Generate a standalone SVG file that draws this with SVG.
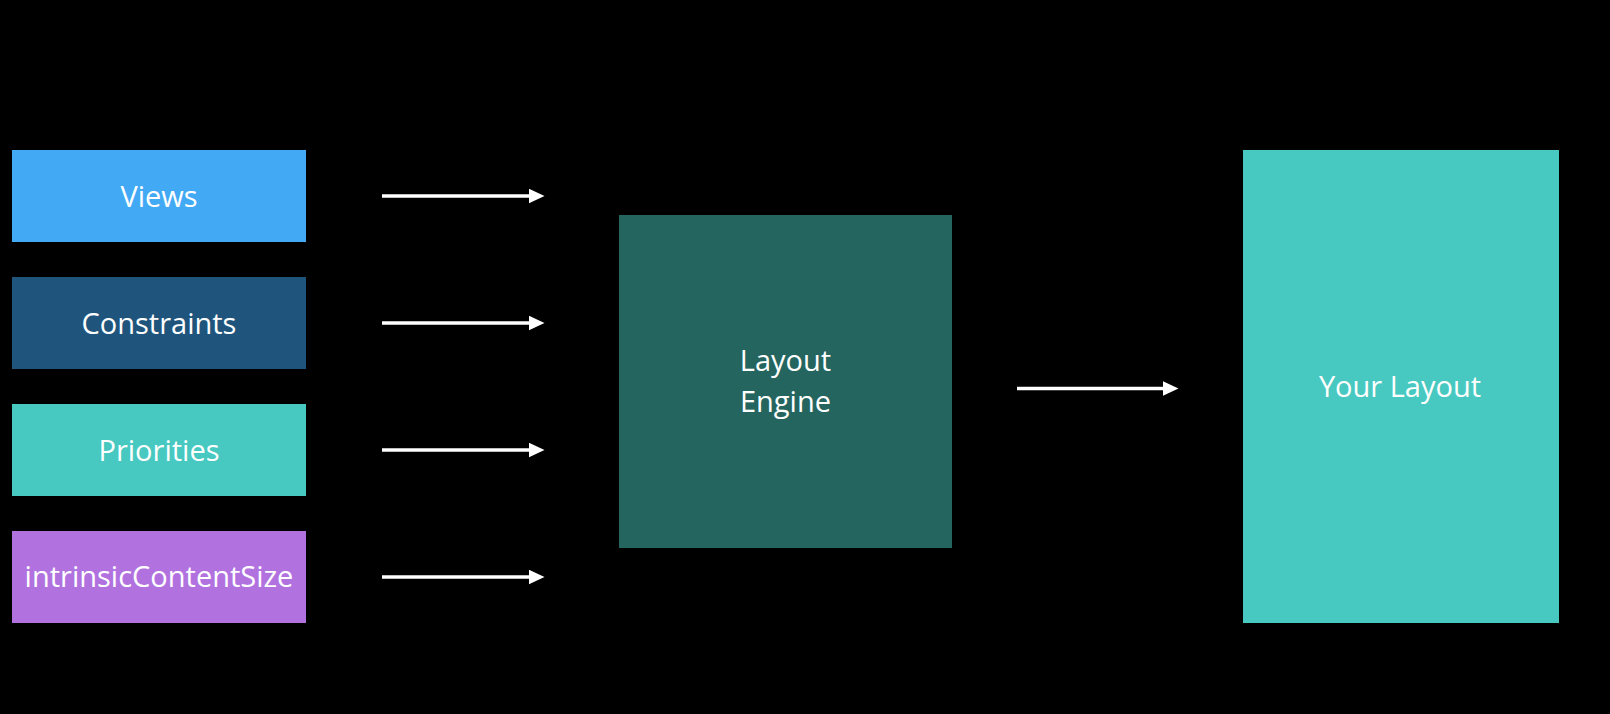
<svg xmlns="http://www.w3.org/2000/svg" width="1610" height="714" viewBox="0 0 1610 714">
  <defs>
    <style>
      .lbl { font-family: "Open Sans", "Liberation Sans", sans-serif; font-size: 29px; fill: #ffffff; text-anchor: middle; }
      .conn { stroke: #ffffff; stroke-width: 3.5; fill: none; }
    </style>
    <marker id="arrow" markerUnits="userSpaceOnUse" markerWidth="16" markerHeight="15" refX="0.5" refY="7.5" orient="auto">
      <path d="M0,0 L16,7.5 L0,15 z" fill="#ffffff"/>
    </marker>
  </defs>
  <rect x="0" y="0" width="1610" height="714" fill="#000000"/>

  <g id="views">
    <rect x="12" y="150" width="294" height="92" fill="#42A9F5"/>
    <text class="lbl" x="159" y="207">Views</text>
  </g>
  <g id="constraints">
    <rect x="12" y="277" width="294" height="92" fill="#1F557C"/>
    <text class="lbl" x="159" y="333.5">Constraints</text>
  </g>
  <g id="priorities">
    <rect x="12" y="404" width="294" height="92" fill="#47C8C0"/>
    <text class="lbl" x="159" y="460.5">Priorities</text>
  </g>
  <g id="intrinsic">
    <rect x="12" y="531" width="294" height="92" fill="#B172DF"/>
    <text class="lbl" x="159" y="587">intrinsicContentSize</text>
  </g>
  <g id="engine">
    <rect x="619" y="215" width="333" height="333" fill="#256560"/>
    <text class="lbl" x="785.5" y="370.5">Layout</text>
    <text class="lbl" x="785.5" y="411.5">Engine</text>
  </g>
  <g id="result">
    <rect x="1243" y="150" width="316" height="473" fill="#47C8C0"/>
    <text class="lbl" x="1400" y="396.5">Your Layout</text>
  </g>

  <g id="connectors">
    <line class="conn" x1="382" y1="196" x2="529" y2="196" marker-end="url(#arrow)"/>
    <line class="conn" x1="382" y1="323" x2="529" y2="323" marker-end="url(#arrow)"/>
    <line class="conn" x1="382" y1="450" x2="529" y2="450" marker-end="url(#arrow)"/>
    <line class="conn" x1="382" y1="577" x2="529" y2="577" marker-end="url(#arrow)"/>
    <line class="conn" x1="1017" y1="388.5" x2="1163" y2="388.5" marker-end="url(#arrow)"/>
  </g>
</svg>
